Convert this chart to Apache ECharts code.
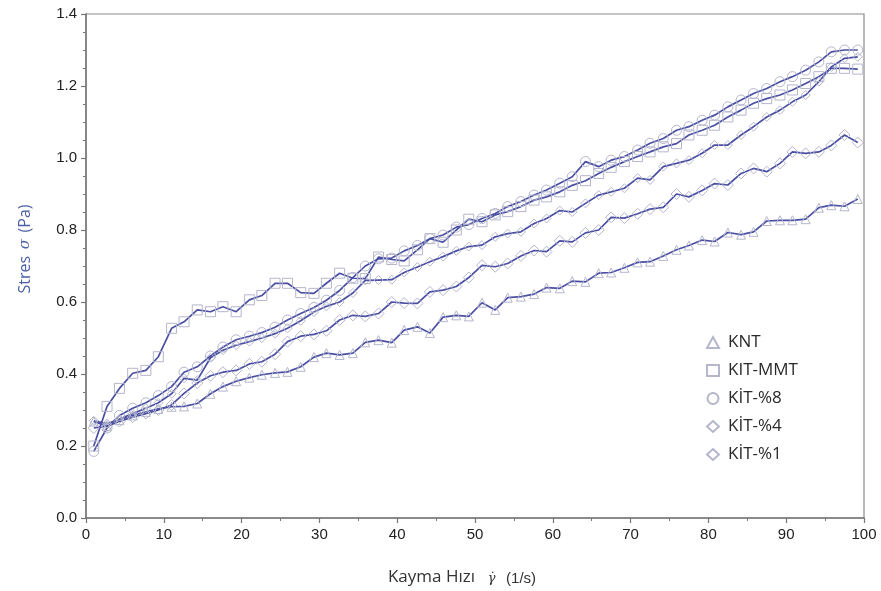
<!DOCTYPE html>
<html>
<head>
<meta charset="utf-8">
<script src="https://cdn.jsdelivr.net/npm/echarts@6/dist/echarts.min.js"></script>
<style>html,body{margin:0;padding:0;background:#fff}#c{width:881px;height:591px}</style>
</head>
<body>
<div id="c"></div>
<script>
const shearRate = [1.0, 2.7, 4.3, 6.0, 7.7, 9.3, 11.0, 12.6, 14.3, 16.0, 17.6, 19.3, 21.0, 22.6, 24.3, 25.9, 27.6, 29.3, 30.9, 32.6, 34.3, 35.9, 37.6, 39.3, 40.9, 42.6, 44.2, 45.9, 47.6, 49.2, 50.9, 52.6, 54.2, 55.9, 57.6, 59.2, 60.9, 62.5, 64.2, 65.9, 67.5, 69.2, 70.9, 72.5, 74.2, 75.9, 77.5, 79.2, 80.8, 82.5, 84.2, 85.8, 87.5, 89.2, 90.8, 92.5, 94.2, 95.8, 97.5, 99.2];

const knt = [0.268, 0.255, 0.272, 0.285, 0.295, 0.303, 0.309, 0.31, 0.318, 0.345, 0.365, 0.38, 0.39, 0.398, 0.403, 0.406, 0.42, 0.447, 0.458, 0.453, 0.458, 0.488, 0.494, 0.487, 0.522, 0.531, 0.514, 0.558, 0.563, 0.56, 0.598, 0.578, 0.612, 0.615, 0.622, 0.64, 0.638, 0.658, 0.656, 0.68, 0.682, 0.695, 0.71, 0.712, 0.728, 0.745, 0.757, 0.772, 0.768, 0.793, 0.787, 0.795, 0.825, 0.827, 0.827, 0.83, 0.862, 0.869, 0.866, 0.886];

const kitMmt = [0.20, 0.31, 0.36, 0.402, 0.41, 0.448, 0.527, 0.545, 0.578, 0.573, 0.587, 0.573, 0.606, 0.618, 0.652, 0.652, 0.626, 0.624, 0.652, 0.68, 0.666, 0.665, 0.725, 0.718, 0.714, 0.745, 0.776, 0.766, 0.80, 0.83, 0.823, 0.842, 0.851, 0.865, 0.883, 0.892, 0.906, 0.924, 0.937, 0.957, 0.974, 0.99, 1.004, 1.017, 1.031, 1.04, 1.064, 1.077, 1.091, 1.114, 1.133, 1.152, 1.165, 1.175, 1.189, 1.207, 1.226, 1.249, 1.249, 1.247];

const kit8 = [0.185, 0.25, 0.285, 0.305, 0.32, 0.34, 0.365, 0.405, 0.42, 0.45, 0.475, 0.495, 0.505, 0.515, 0.53, 0.55, 0.568, 0.585, 0.605, 0.632, 0.668, 0.70, 0.72, 0.722, 0.742, 0.757, 0.776, 0.786, 0.808, 0.815, 0.832, 0.846, 0.865, 0.879, 0.897, 0.911, 0.93, 0.948, 0.99, 0.976, 0.994, 1.004, 1.022, 1.041, 1.054, 1.077, 1.087, 1.105, 1.119, 1.142, 1.161, 1.179, 1.193, 1.212, 1.226, 1.244, 1.267, 1.295, 1.30, 1.30];

const kit4 = [0.27, 0.262, 0.275, 0.29, 0.305, 0.32, 0.345, 0.388, 0.383, 0.445, 0.466, 0.48, 0.49, 0.50, 0.512, 0.527, 0.548, 0.572, 0.588, 0.60, 0.625, 0.66, 0.661, 0.662, 0.682, 0.697, 0.712, 0.726, 0.742, 0.754, 0.758, 0.781, 0.79, 0.795, 0.818, 0.832, 0.854, 0.85, 0.874, 0.897, 0.906, 0.916, 0.944, 0.939, 0.976, 0.985, 0.994, 1.013, 1.036, 1.036, 1.064, 1.087, 1.114, 1.133, 1.156, 1.175, 1.212, 1.253, 1.277, 1.281];

const kit1 = [0.25, 0.255, 0.268, 0.28, 0.29, 0.30, 0.314, 0.346, 0.375, 0.395, 0.405, 0.41, 0.428, 0.434, 0.455, 0.49, 0.505, 0.51, 0.52, 0.55, 0.563, 0.56, 0.568, 0.60, 0.597, 0.596, 0.628, 0.633, 0.643, 0.668, 0.702, 0.698, 0.707, 0.728, 0.743, 0.74, 0.77, 0.767, 0.792, 0.80, 0.835, 0.833, 0.845, 0.858, 0.863, 0.90, 0.892, 0.91, 0.929, 0.925, 0.957, 0.971, 0.962, 0.985, 1.017, 1.013, 1.017, 1.035, 1.064, 1.043];

const seriesNames = ['KNT', 'KIT-MMT', 'KİT-%8', 'KİT-%4', 'KİT-%1'];
const seriesValues = [knt, kitMmt, kit8, kit4, kit1];
const seriesSymbols = ['triangle', 'rect', 'circle', 'diamond', 'diamond'];
const symbolSizes = [9, 10, 10, 9, 11];

const lineColor = '#4a4fa3';
const markerColor = '#b4b6cc';

const chart = echarts.init(document.getElementById('c'), null, {renderer: 'canvas'});
chart.setOption({
  animation: false,
  backgroundColor: '#fff',
  grid: {left: 86, right: 17, top: 14, bottom: 73, show: true, borderColor: '#8a8a8a', borderWidth: 1.2, backgroundColor: 'transparent'},
  legend: {
    orient: 'vertical', left: 701, top: 329, itemGap: 11, itemWidth: 12, itemHeight: 11,
    textStyle: {fontFamily: 'Open Sans', fontSize: 17, color: '#2a2a2a', padding: [0, 0, 0, 4]},
    data: seriesNames.map((n, i) => ({name: n, icon: seriesSymbols[i]}))
  },
  xAxis: {
    type: 'value', min: 0, max: 100, interval: 10,
    name: '{a|Kayma Hızı}  {g|γ̇}  {u|(1/s)}', nameLocation: 'middle', nameGap: 50,
    nameTextStyle: {padding: [0, 26, 0, 0], rich: {
      a: {fontFamily: 'Open Sans', fontSize: 17, color: '#333'},
      g: {fontFamily: 'DejaVu Serif', fontStyle: 'italic', fontSize: 13, color: '#333', padding: [4, 0, 0, 6]},
      u: {fontFamily: 'Liberation Sans', fontSize: 15, color: '#333', padding: [3, 0, 0, 4]}
    }},
    axisLine: {show: true, onZero: false, lineStyle: {color: '#777', width: 1.5}},
    axisTick: {show: true, inside: false, length: 5, lineStyle: {color: '#777', width: 1.2}},
    minorTick: {show: true, splitNumber: 2, length: 3, lineStyle: {color: '#777'}},
    splitLine: {show: false},
    axisLabel: {fontFamily: 'Liberation Sans', fontSize: 15, color: '#222', margin: 9}
  },
  yAxis: {
    type: 'value', min: 0, max: 1.4, interval: 0.2,
    name: '{a|Stres}  {s|σ}  {a|(Pa)}', nameLocation: 'middle', nameGap: 53, nameRotate: 90,
    nameTextStyle: {padding: [0, 0, 0, 34], rich: {
      a: {fontFamily: 'Open Sans', fontSize: 16, color: '#4a5fa6'},
      s: {fontFamily: 'DejaVu Serif', fontStyle: 'italic', fontSize: 15, color: '#4a5fa6'}
    }},
    axisLine: {show: true, lineStyle: {color: '#777', width: 1.5}},
    axisTick: {show: true, inside: false, length: 5, lineStyle: {color: '#777', width: 1.2}},
    minorTick: {show: true, splitNumber: 4, length: 3, lineStyle: {color: '#777'}},
    splitLine: {show: false},
    axisLabel: {fontFamily: 'Liberation Sans', fontSize: 15, color: '#222', margin: 9, formatter: v => v.toFixed(1)}
  },
  series: seriesNames.map((n, i) => ({
    name: n, type: 'line',
    data: shearRate.map((x, j) => [x, seriesValues[i][j]]),
    symbol: seriesSymbols[i], symbolSize: symbolSizes[i], showSymbol: true,
    itemStyle: {color: 'rgba(255,255,255,0)', borderColor: markerColor, borderWidth: 1},
    lineStyle: {color: lineColor, width: 1.7},
    z: 2
  }))
});
</script>
</body>
</html>
